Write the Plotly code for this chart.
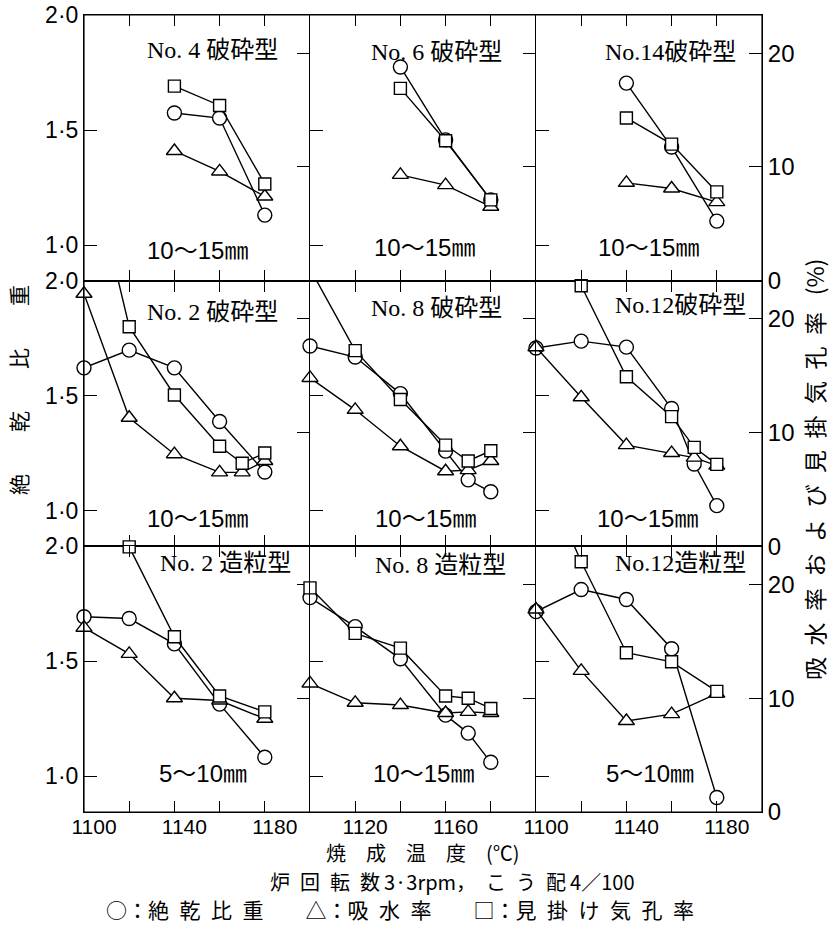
import plotly.graph_objects as go
from plotly.subplots import make_subplots

# ---------------- data ----------------
panel_titles = ["No. 4 破砕型", "No. 6 破砕型", "No.14破砕型",
                "No. 2 破砕型", "No. 8 破砕型", "No.12破砕型",
                "No. 2 造粒型", "No. 8 造粒型", "No.12造粒型"]
size_labels = ["10〜15㎜", "10〜15㎜", "10〜15㎜",
               "10〜15㎜", "10〜15㎜", "10〜15㎜",
               "5〜10㎜", "10〜15㎜", "5〜10㎜"]

# No.4 crushed
no4c_t_dens = [1140, 1160, 1180]
no4c_dens = [1.574, 1.552, 1.130]
no4c_t_abs = [1140, 1160, 1180]
no4c_abs = [11.4, 9.6, 7.4]
no4c_t_por = [1140, 1160, 1180]
no4c_por = [17.1, 15.4, 8.5]

# No.6 crushed
no6c_t_dens = [1140, 1160, 1180]
no6c_dens = [1.774, 1.457, 1.196]
no6c_t_abs = [1140, 1160, 1180]
no6c_abs = [9.3, 8.4, 6.5]
no6c_t_por = [1140, 1160, 1180]
no6c_por = [16.9, 12.3, 7.1]

# No.14 crushed
no14c_t_dens = [1140, 1160, 1180]
no14c_dens = [1.704, 1.426, 1.104]
no14c_t_abs = [1140, 1160, 1180]
no14c_abs = [8.6, 8.1, 6.9]
no14c_t_por = [1140, 1160, 1180]
no14c_por = [14.3, 12.0, 7.8]

# No.2 crushed
no2c_t_dens = [1100, 1120, 1140, 1160, 1180]
no2c_dens = [1.621, 1.698, 1.621, 1.388, 1.168]
no2c_t_abs = [1100, 1120, 1140, 1160, 1170, 1180]
no2c_abs = [22.2, 11.3, 8.1, 6.5, 6.5, 7.5]
no2c_t_por = [1100, 1120, 1140, 1160, 1170, 1180]
no2c_por = [36.0, 19.3, 13.3, 8.8, 7.3, 8.2]

# No.8 crushed
no8c_t_dens = [1100, 1120, 1140, 1160, 1170, 1180]
no8c_dens = [1.716, 1.668, 1.509, 1.259, 1.134, 1.082]
no8c_t_abs = [1100, 1120, 1140, 1160, 1170, 1180]
no8c_abs = [14.8, 12.0, 8.8, 6.6, 6.7, 7.5]
no8c_t_por = [1100, 1120, 1140, 1160, 1170, 1180]
no8c_por = [24.4, 17.2, 12.9, 8.9, 7.5, 8.4]

# No.12 crushed
no12c_t_dens = [1100, 1120, 1140, 1160, 1170, 1180]
no12c_dens = [1.707, 1.737, 1.711, 1.444, 1.203, 1.022]
no12c_t_abs = [1100, 1120, 1140, 1160, 1170, 1180]
no12c_abs = [17.5, 13.1, 8.9, 8.2, 7.8, 7.1]
no12c_t_por = [1120, 1140, 1160, 1170, 1180]
no12c_por = [22.9, 14.9, 11.4, 8.7, 7.2]

# No.2 granulated
no2g_t_dens = [1100, 1120, 1140, 1160, 1180]
no2g_dens = [1.694, 1.686, 1.576, 1.314, 1.083]
no2g_t_abs = [1100, 1120, 1140, 1160, 1180]
no2g_abs = [16.2, 13.9, 10.0, 9.8, 8.2]
no2g_t_por = [1120, 1140, 1160, 1180]
no2g_por = [23.3, 15.4, 10.2, 8.8]

# No.8 granulated
no8g_t_dens = [1100, 1120, 1140, 1160, 1170, 1180]
no8g_dens = [1.777, 1.651, 1.511, 1.266, 1.188, 1.061]
no8g_t_abs = [1100, 1120, 1140, 1160, 1170, 1180]
no8g_abs = [11.3, 9.6, 9.4, 8.7, 8.8, 8.7]
no8g_t_por = [1100, 1120, 1140, 1160, 1170, 1180]
no8g_por = [19.7, 15.7, 14.4, 10.2, 10.0, 9.1]

# No.12 granulated
no12g_t_dens = [1100, 1120, 1140, 1160, 1180]
no12g_dens = [1.716, 1.812, 1.769, 1.555, 0.908]
no12g_t_abs = [1100, 1120, 1140, 1160, 1180]
no12g_abs = [17.8, 12.4, 8.0, 8.6, 10.4]
no12g_t_por = [1100, 1120, 1140, 1160, 1180]
no12g_por = [31.0, 22.0, 14.0, 13.2, 10.6]

x_tick_values = [1100, 1120, 1140, 1160, 1180, 1200]
x_tick_text_outer = ["1100", "", "1140", "", "1180", ""]
x_tick_text_middle = ["", "1120", "", "1160", "", ""]
left_tick_values = [1.0, 1.5, 2.0]
left_tick_text = ["1·0", "1·5", "2·0"]
right_tick_values = [0, 10, 20]
right_tick_text = ["0", "10", "20"]

x_title = "焼　成　温　度　(℃)"
condition_text = "炉\u2002回\u2002転\u2002数\u20093·3rpm，\u2002こ\u2002う\u2002配\u20094／100"
legend_text = ("○：絶\u2002乾\u2002比\u2002重　　△：吸\u2002水\u2002率　　"
               "□：見\u2002掛\u2002け\u2002気\u2002孔\u2002率")
left_title = "絶　　乾　　比　　重"
right_title = ("吸\u2002水\u2002率\u2002お\u2002よ\u2002び\u2002見\u2002掛"
               "\u2002気\u2002孔\u2002率\u2002 (%)")

panels = [
    (no4c_t_dens, no4c_dens, no4c_t_abs, no4c_abs, no4c_t_por, no4c_por),
    (no6c_t_dens, no6c_dens, no6c_t_abs, no6c_abs, no6c_t_por, no6c_por),
    (no14c_t_dens, no14c_dens, no14c_t_abs, no14c_abs, no14c_t_por, no14c_por),
    (no2c_t_dens, no2c_dens, no2c_t_abs, no2c_abs, no2c_t_por, no2c_por),
    (no8c_t_dens, no8c_dens, no8c_t_abs, no8c_abs, no8c_t_por, no8c_por),
    (no12c_t_dens, no12c_dens, no12c_t_abs, no12c_abs, no12c_t_por, no12c_por),
    (no2g_t_dens, no2g_dens, no2g_t_abs, no2g_abs, no2g_t_por, no2g_por),
    (no8g_t_dens, no8g_dens, no8g_t_abs, no8g_abs, no8g_t_por, no8g_por),
    (no12g_t_dens, no12g_dens, no12g_t_abs, no12g_abs, no12g_t_por, no12g_por),
]

# ---------------- layout geometry ----------------
W, H = 831, 930
L, R, T, B = 84, 762, 15, 812
LEFT_RANGE = [0.845, 2.0]
RIGHT_RANGE = [0, 23.35]
X_RANGE = [1100, 1200]


def px_x(p):
    return (p - L) / (R - L)


def px_y(p):
    return (B - p) / (B - T)


NUM_FONT = "Liberation Sans, Noto Sans CJK JP, sans-serif"
JP_FONT = "Noto Sans CJK JP, sans-serif"
TITLE_FONT = "Liberation Serif, Noto Sans CJK JP, serif"

fig = make_subplots(rows=3, cols=3,
                    specs=[[{"secondary_y": True}] * 3 for _ in range(3)],
                    horizontal_spacing=0, vertical_spacing=0)

LW = 1.4
AX_LW = 1.1


def series(x, y, symbol, size, secondary, r, c):
    limit = RIGHT_RANGE[1] if secondary else LEFT_RANGE[1]
    clip = max(y) > limit
    fig.add_trace(go.Scatter(
        x=x, y=y, mode="lines+markers",
        line=dict(color="black", width=LW),
        marker=dict(symbol=symbol, size=size, color="white",
                    line=dict(color="black", width=LW)),
        cliponaxis=clip, showlegend=False, hoverinfo="skip"),
        row=r, col=c, secondary_y=secondary)


for i, (td, d, ta, a, tp, p) in enumerate(panels):
    r, c = i // 3 + 1, i % 3 + 1
    series(ta, a, "triangle-up", 14, True, r, c)
    series(tp, p, "square", 12, True, r, c)
    series(td, d, "circle", 14, False, r, c)

for r in range(1, 4):
    for c in range(1, 4):
        fig.update_xaxes(
            domain=[(c - 1) / 3, c / 3],
            range=X_RANGE, tickvals=x_tick_values,
            ticktext=x_tick_text_middle if c == 2 else x_tick_text_outer,
            showticklabels=(r == 3), ticks="inside", ticklen=11,
            tickwidth=1.3, tickcolor="black", showline=True,
            linewidth=AX_LW, linecolor="black", mirror="ticks",
            showgrid=False, zeroline=False, ticklabelshift=10,
            ticklabelstandoff=-4, automargin=False,
            tickfont=dict(family=NUM_FONT, size=21, color="black"),
            row=r, col=c)
        fig.update_yaxes(
            range=LEFT_RANGE, tickvals=left_tick_values,
            ticktext=left_tick_text, showticklabels=(c == 1),
            ticks="inside", ticklen=13, tickwidth=1.3, tickcolor="black",
            showline=True, linewidth=AX_LW, linecolor="black",
            showgrid=False, zeroline=False, automargin=False,
            tickfont=dict(family=NUM_FONT, size=23, color="black"),
            row=r, col=c, secondary_y=False)
        fig.update_yaxes(
            range=RIGHT_RANGE, tickvals=right_tick_values,
            ticktext=right_tick_text, showticklabels=(c == 3),
            ticks="inside", ticklen=13, tickwidth=1.3, tickcolor="black",
            showline=(c == 3), linewidth=AX_LW, linecolor="black",
            showgrid=False, zeroline=False, automargin=False,
            tickfont=dict(family=NUM_FONT, size=24, color="black"),
            row=r, col=c, secondary_y=True)

annotations = []
title_pos = [(212, 50), (436, 52), (670, 52),
             (212, 312), (436, 308), (680, 305),
             (225, 563), (440, 565), (680, 563)]
size_pos = [(197, 250), (424, 248), (648, 247),
            (197, 518), (425, 518), (647, 518),
            (203, 773), (423, 773), (650, 773)]
for i in range(9):
    annotations.append(dict(
        x=px_x(title_pos[i][0]), y=px_y(title_pos[i][1]), xref="paper", yref="paper",
        text=panel_titles[i], showarrow=False, xanchor="center", yanchor="middle",
        font=dict(family=TITLE_FONT, size=24, color="black")))
    annotations.append(dict(
        x=px_x(size_pos[i][0]), y=px_y(size_pos[i][1]), xref="paper", yref="paper",
        text=size_labels[i], showarrow=False, xanchor="center", yanchor="middle",
        font=dict(family=NUM_FONT, size=24, color="black")))

annotations += [
    dict(x=px_x(423), y=px_y(853), xref="paper", yref="paper", text=x_title,
         showarrow=False, xanchor="center", yanchor="middle",
         font=dict(family=JP_FONT, size=20, color="black")),
    dict(x=px_x(452), y=px_y(881), xref="paper", yref="paper", text=condition_text,
         showarrow=False, xanchor="center", yanchor="middle",
         font=dict(family=JP_FONT, size=20, color="black")),
    dict(x=px_x(400), y=px_y(909), xref="paper", yref="paper", text=legend_text,
         showarrow=False, xanchor="center", yanchor="middle",
         font=dict(family=JP_FONT, size=21, color="black")),
    dict(x=px_x(18), y=px_y(390), xref="paper", yref="paper", text=left_title,
         showarrow=False, xanchor="center", yanchor="middle", textangle=-90,
         font=dict(family=JP_FONT, size=21, color="black")),
    dict(x=px_x(814), y=px_y(470), xref="paper", yref="paper", text=right_title,
         showarrow=False, xanchor="center", yanchor="middle", textangle=-90,
         font=dict(family=JP_FONT, size=23, color="black")),
]

fig.update_layout(
    template="none",
    width=W, height=H,
    margin=dict(l=L, r=W - R, t=T, b=H - B, pad=0, autoexpand=False),
    paper_bgcolor="white", plot_bgcolor="white",
    annotations=annotations, showlegend=False,
    shapes=[dict(type="rect", xref="paper", yref="paper", x0=0, x1=1, y0=0, y1=1,
                 line=dict(color="black", width=1.2), layer="above")],
)

fig.write_html("out.html")
